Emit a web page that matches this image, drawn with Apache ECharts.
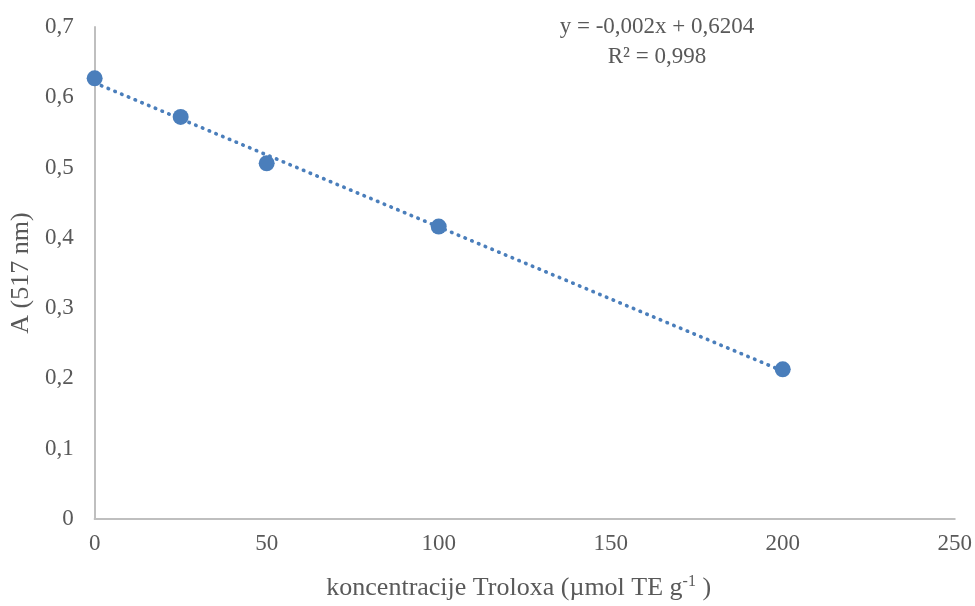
<!DOCTYPE html>
<html><head><meta charset="utf-8">
<script src="https://cdn.jsdelivr.net/npm/echarts@6/dist/echarts.min.js"></script>
<style>html,body{margin:0;padding:0;background:#fff}#c{width:975px;height:606px}</style>
</head><body><div id="c"></div>
<script>
const xValues = [0, 25, 50, 100, 200];
const yValues = [0.627, 0.572, 0.506, 0.416, 0.213];
const eqText = 'y = -0,002x + 0,6204';
const r2Text = 'R² = 0,998';
const xTitle = 'koncentracije Troloxa (µmol TE g{sup|-1} )';
const yTitle = 'A (517 nm)';

// least-squares trendline
const n = xValues.length;
const mx = xValues.reduce((a,b)=>a+b,0)/n;
const my = yValues.reduce((a,b)=>a+b,0)/n;
let sxy=0,sxx=0;
for(let i=0;i<n;i++){sxy+=(xValues[i]-mx)*(yValues[i]-my);sxx+=(xValues[i]-mx)**2;}
const slope=sxy/sxx, intercept=my-slope*mx;
const xs0=Math.min(...xValues), xs1=Math.max(...xValues);
const trend=[[xs0,intercept+slope*xs0],[xs1,intercept+slope*xs1]];

const font='"Liberation Serif","Times New Roman",serif';
const chart=echarts.init(document.getElementById('c'),null,{renderer:'canvas'});
chart.setOption({
  animation:false,
  grid:{left:94,right:18,top:27,bottom:80,containLabel:false},
  xAxis:{type:'value',min:0,max:250,interval:50,
    axisLine:{show:true,lineStyle:{color:'#bfbfbf',width:2}},
    axisTick:{show:false},splitLine:{show:false},
    axisLabel:{color:'#595959',fontFamily:font,fontSize:23,margin:13},
    name:xTitle,nameLocation:'middle',nameGap:55,
    nameTextStyle:{color:'#595959',fontFamily:font,fontSize:26,padding:[0,12,0,0],
      rich:{sup:{fontFamily:font,fontSize:16,color:'#595959',verticalAlign:'top',padding:[0,0,12,0]}}}
  },
  yAxis:{type:'value',min:0,max:0.7,interval:0.1,
    axisLine:{show:true,lineStyle:{color:'#bfbfbf',width:2}},
    axisTick:{show:false},splitLine:{show:false},
    axisLabel:{color:'#595959',fontFamily:font,fontSize:23,margin:21,
      formatter:v=>String(Math.round(v*10)/10).replace('.',',')},
    name:yTitle,nameLocation:'middle',nameGap:58,
    nameTextStyle:{color:'#595959',fontFamily:font,fontSize:26}
  },
  graphic:[
    {type:'text',x:657,y:27,style:{text:eqText,textAlign:'center',textVerticalAlign:'middle',fill:'#595959',font:'23px '+font}},
    {type:'text',x:657,y:57,style:{text:r2Text,textAlign:'center',textVerticalAlign:'middle',fill:'#595959',font:'23px '+font}}
  ],
  series:[
    {type:'line',data:trend,symbol:'none',lineStyle:{type:[0.5,6.8],cap:'round',width:3.6,color:'#4a7ebb'},z:1},
    {type:'scatter',data:xValues.map((x,i)=>[x,yValues[i]]),symbolSize:16,itemStyle:{color:'#4a7ebb',opacity:1},z:2}
  ]
});
</script></body></html>
